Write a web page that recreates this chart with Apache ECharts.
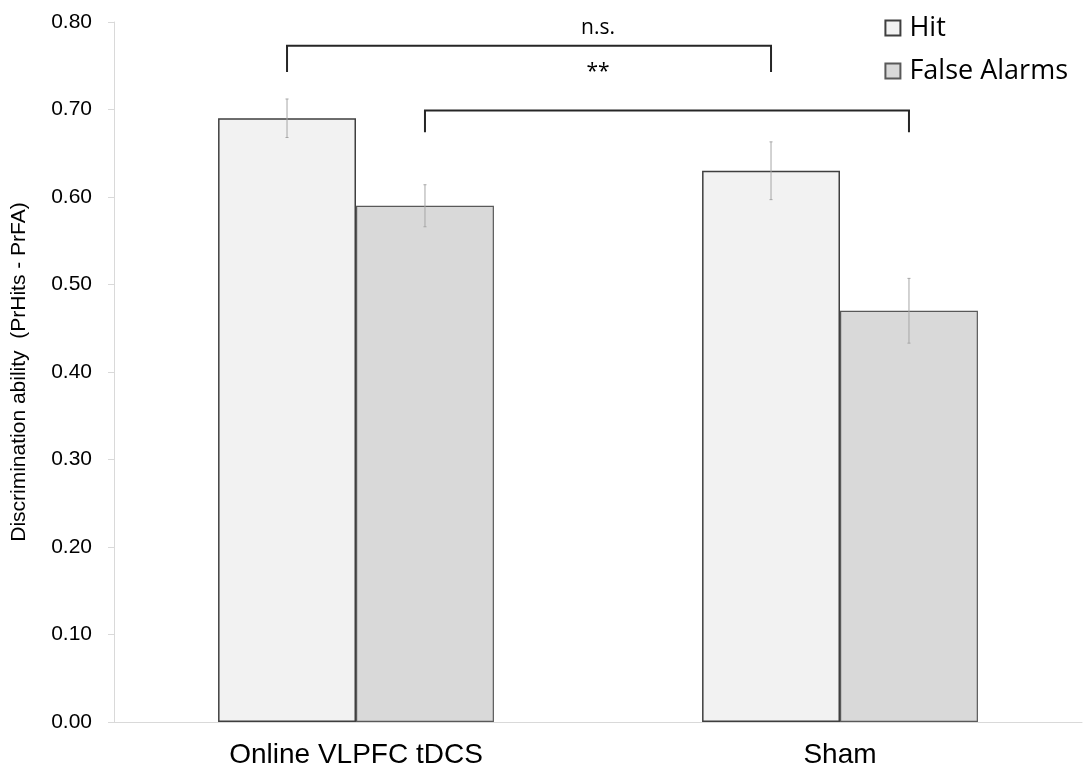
<!DOCTYPE html>
<html>
<head>
<meta charset="utf-8">
<script src="https://cdn.jsdelivr.net/npm/echarts@6/dist/echarts.min.js"></script>
<style>
  html, body { margin: 0; padding: 0; background: #ffffff; }
  #chart { width: 1086px; height: 772px; }
</style>
</head>
<body>
<div id="chart"></div>
<script>
// Conditions on the x axis
const categories = ['Online VLPFC tDCS', 'Sham'];
const seriesNames = ['Hit', 'False Alarms'];

// Mean discrimination ability per condition
const hitValues = [0.69, 0.63];
const falseAlarmValues = [0.59, 0.47];

// Standard errors
const hitErrors = [0.022, 0.033];
const falseAlarmErrors = [0.024, 0.037];

// Y axis ticks
const yMin = 0, yMax = 0.8, yStep = 0.1;

// Significance brackets: [fromCategory, fromSeries, toCategory, toSeries, barLevel, legLevel, label, labelLevel]
const brackets = [
  [0, 0, 1, 0, 0.773, 0.743, 'n.s.', 0.793],
  [0, 1, 1, 1, 0.699, 0.674, '**', 0.743]
];

const barCategoryGap = 0.43;

const chart = echarts.init(document.getElementById('chart'), null, { renderer: 'canvas' });

// x pixel of a bar centre within a category
function barCenter(api, cat, seriesIdx) {
  const base = api.coord([cat, 0])[0];
  const band = api.size([1, 0])[0];
  const barW = band * (1 - barCategoryGap) / 2;
  return base + (seriesIdx === 0 ? -barW / 2 : barW / 2);
}

const errorData = [];
hitValues.forEach((v, i) => errorData.push([i, 0, v - hitErrors[i], v + hitErrors[i]]));
falseAlarmValues.forEach((v, i) => errorData.push([i, 1, v - falseAlarmErrors[i], v + falseAlarmErrors[i]]));

const option = {
  backgroundColor: '#ffffff',
  animation: false,
  grid: { left: 114, right: 4, top: 22, bottom: 50, containLabel: false, outerBoundsMode: 'none' },
  legend: {
    data: seriesNames,
    orient: 'vertical',
    right: 13,
    top: 8,
    itemWidth: 15,
    itemHeight: 15,
    itemGap: 13,
    icon: 'rect',
    textStyle: { fontFamily: 'Open Sans', fontSize: 27, lineHeight: 30, color: '#000000', padding: [0, 0, 0, 4] }
  },
  xAxis: {
    type: 'category',
    data: categories,
    axisLine: { lineStyle: { color: '#d9d9d9', width: 1 } },
    axisTick: { show: false },
    axisLabel: {
      color: '#000000',
      fontFamily: 'Liberation Sans',
      fontSize: 28,
      margin: 19
    }
  },
  yAxis: {
    type: 'value',
    min: yMin,
    max: yMax,
    interval: yStep,
    name: 'Discrimination ability  (PrHits - PrFA)',
    nameLocation: 'middle',
    nameGap: 84,
    nameRotate: 90,
    nameTextStyle: { fontFamily: 'Liberation Sans', fontSize: 21, color: '#000000' },
    axisLine: { show: true, lineStyle: { color: '#d9d9d9', width: 1 } },
    axisTick: { show: true, length: 6, lineStyle: { color: '#d9d9d9' } },
    splitLine: { show: false },
    axisLabel: {
      color: '#000000',
      fontFamily: 'Liberation Sans',
      fontSize: 21,
      margin: 22,
      formatter: v => v.toFixed(2)
    }
  },
  series: [
    {
      name: seriesNames[0],
      type: 'bar',
      data: hitValues,
      barGap: '0%',
      barCategoryGap: (barCategoryGap * 100) + '%',
      itemStyle: { color: '#f2f2f2', borderColor: '#3f3f3f', borderWidth: 1.5 }
    },
    {
      name: seriesNames[1],
      type: 'bar',
      data: falseAlarmValues,
      barGap: '0%',
      barCategoryGap: (barCategoryGap * 100) + '%',
      itemStyle: { color: '#d9d9d9', borderColor: '#595959', borderWidth: 1.2 }
    },
    {
      // error bars
      type: 'custom',
      data: errorData,
      z: 10,
      silent: true,
      renderItem: function (params, api) {
        const cat = api.value(0), s = api.value(1);
        const x = barCenter(api, cat, s);
        const yLo = api.coord([cat, api.value(2)])[1];
        const yHi = api.coord([cat, api.value(3)])[1];
        const cap = 1.5;
        const style = { stroke: '#a6a6a6', lineWidth: 1 };
        return {
          type: 'group',
          children: [
            { type: 'line', shape: { x1: x, y1: yLo, x2: x, y2: yHi }, style },
            { type: 'line', shape: { x1: x - cap, y1: yLo, x2: x + cap, y2: yLo }, style },
            { type: 'line', shape: { x1: x - cap, y1: yHi, x2: x + cap, y2: yHi }, style }
          ]
        };
      }
    },
    {
      // significance brackets
      type: 'custom',
      data: brackets.map(b => b.slice(0, 6).concat([b[7]])),
      z: 10,
      silent: true,
      renderItem: function (params, api) {
        const b = brackets[params.dataIndex];
        const x1 = barCenter(api, b[0], b[1]);
        const x2 = barCenter(api, b[2], b[3]);
        const yTop = api.coord([0, b[4]])[1];
        const yLeg = api.coord([0, b[5]])[1];
        const yText = api.coord([0, b[7]])[1];
        const xText = (api.coord([0, 0])[0] + api.coord([1, 0])[0]) / 2;
        return {
          type: 'group',
          children: [
            {
              type: 'polyline',
              shape: { points: [[x1, yLeg], [x1, yTop], [x2, yTop], [x2, yLeg]] },
              style: { stroke: '#262626', lineWidth: 2, fill: null }
            },
            {
              type: 'text',
              style: {
                text: b[6], x: xText, y: yText,
                align: 'center', verticalAlign: 'middle',
                fontFamily: 'Open Sans', fontSize: 21, fill: '#000000'
              }
            }
          ]
        };
      }
    }
  ]
};

chart.setOption(option);
</script>
</body>
</html>
